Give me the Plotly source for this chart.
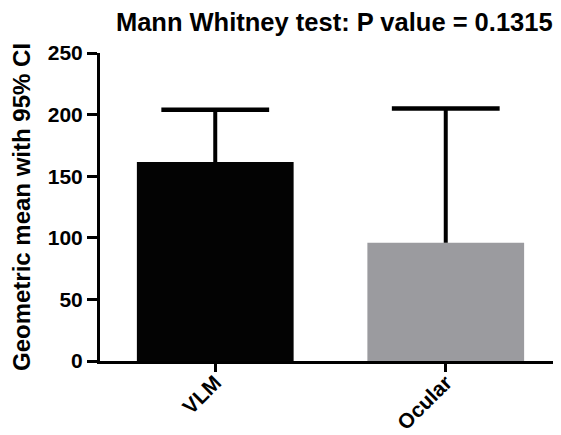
import plotly.graph_objects as go

categories = ["VLM", "Ocular"]
geo_means = [161.5, 96]
ci_upper = [204, 205]
bar_colors = ["#030303", "#9b9b9f"]
title_text = "Mann Whitney test: P value = 0.1315"
y_title = "Geometric mean with 95% CI"
y_ticks = [0, 50, 100, 150, 200, 250]

font = "Liberation Sans, Arial, sans-serif"

fig = go.Figure()
fig.add_trace(go.Bar(
    x=categories, y=geo_means,
    marker=dict(color=bar_colors, line=dict(width=0)),
    width=0.68, hoverinfo="skip",
))
# error-bar stems (from mean up to upper CI)
stem_x, stem_y = [], []
for c, m, u in zip(categories, geo_means, ci_upper):
    stem_x += [c, c, None]
    stem_y += [m, u, None]
fig.add_trace(go.Scatter(
    x=stem_x, y=stem_y, mode="lines",
    line=dict(color="black", width=4), hoverinfo="skip",
))
# caps at upper CI
fig.add_trace(go.Scatter(
    x=categories, y=ci_upper, mode="markers",
    marker=dict(symbol="line-ew", size=77, color="black",
                line=dict(color="black", width=4.5)),
    hoverinfo="skip",
))

fig.update_layout(
    width=553, height=427,
    margin=dict(l=92, r=0, t=45, b=74, autoexpand=False),
    paper_bgcolor="white", plot_bgcolor="white",
    showlegend=False,
    title=dict(text="<b>" + title_text + "</b>", x=0.59, xanchor="center",
               y=0.966, yanchor="middle",
               font=dict(family=font, size=25.5, color="black")),
    font=dict(family=font, color="black"),
)
fig.update_xaxes(
    type="category", automargin=False,
    range=[-0.5, 1.5], showline=True, linecolor="black", linewidth=3,
    ticks="outside", ticklen=8, tickwidth=3, tickcolor="black",
    tickangle=-45, tickfont=dict(family=font, size=21, color="black"),
    ticklabelstandoff=-10,
    tickvals=categories, ticktext=["<b>" + c + "</b>" for c in categories],
    showgrid=False, zeroline=False,
)
fig.update_yaxes(
    automargin=False,
    range=[0, 250], showline=True, linecolor="black", linewidth=3,
    ticks="outside", ticklen=10, tickwidth=3, tickcolor="black",
    tickvals=y_ticks, ticktext=["<b>%d</b>" % v for v in y_ticks],
    tickfont=dict(family=font, size=21, color="black"),
    title=dict(text="<b>" + y_title + "</b>", standoff=12,
               font=dict(family=font, size=24, color="black")),
    showgrid=False, zeroline=False,
)
fig.write_html("out.html")
